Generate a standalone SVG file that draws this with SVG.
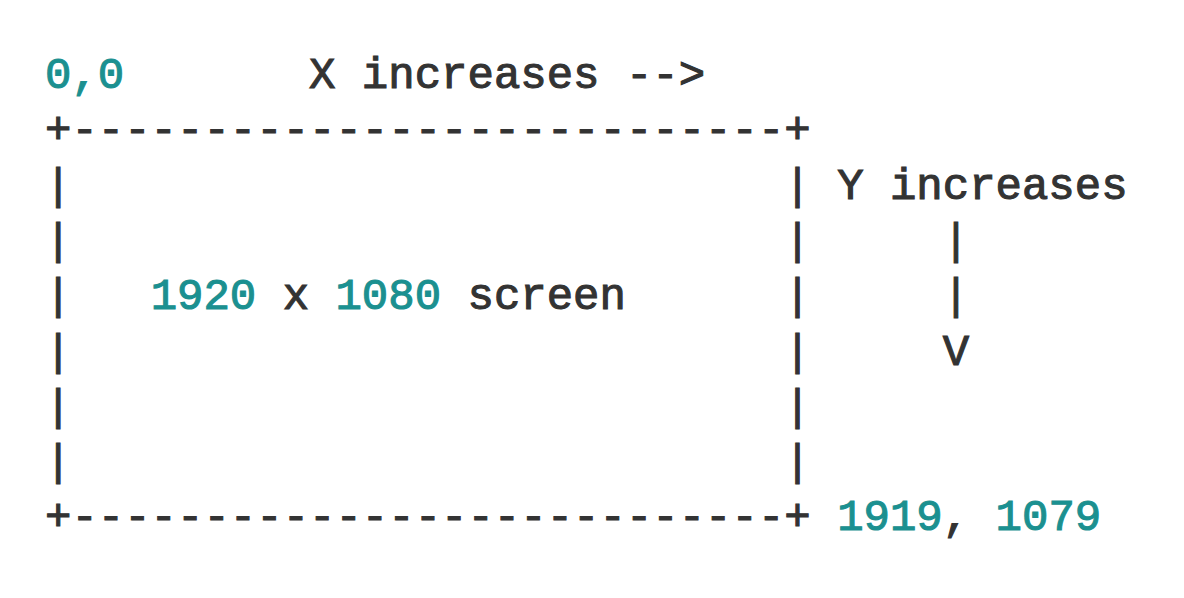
<svg xmlns="http://www.w3.org/2000/svg" width="1184" height="598" viewBox="0 0 1184 598">
<style>
text{font-family:"Liberation Mono","DejaVu Sans Mono",monospace;font-size:44px;fill:#333333;stroke:#333333;stroke-width:1.1px;white-space:pre}
.n{fill:#1b9090;stroke:#1b9090}
</style>
<rect width="1184" height="598" fill="#ffffff"/>
<g id="ascii">
<text x="45" y="88"><tspan class="n">0,0</tspan>       X increases --&gt;</text>
<text x="45" y="143">+---------------------------+</text>
<text x="45" y="198.5">|                           | Y increases</text>
<text x="45" y="254">|                           |     |</text>
<text x="45" y="309">|   <tspan class="n">1920</tspan> x <tspan class="n">1080</tspan> screen      |     |</text>
<text x="45" y="364.5">|                           |     V</text>
<text x="45" y="420">|                           |</text>
<text x="45" y="475">|                           |</text>
<text x="45" y="530">+---------------------------+ <tspan class="n">1919</tspan>, <tspan class="n">1079</tspan></text>
</g>
</svg>
